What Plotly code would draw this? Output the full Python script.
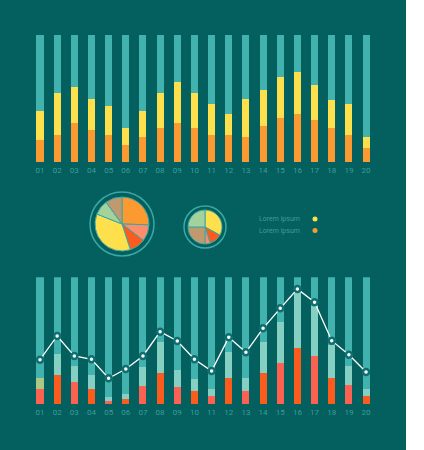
import plotly.graph_objects as go

# ---- data ----
labels = ["01", "02", "03", "04", "05", "06", "07", "08", "09", "10",
          "11", "12", "13", "14", "15", "16", "17", "18", "19", "20"]

# top chart (percent of full bar)
top_orange = [17, 21, 31, 25, 21, 13, 20, 27, 31, 27, 21, 21, 20, 28, 35, 38, 33, 27, 21, 11]
top_yellow = [23, 33, 28, 25, 23, 14, 20, 27, 32, 27, 25, 17, 30, 29, 32, 33, 28, 22, 25, 9]

# bottom chart
bottom_red = [11.6, 23, 17.4, 11.6, 2.4, 3.7, 14.2, 24, 13.4, 9.7,
              5.8, 20.3, 10, 24, 31.8, 44, 37.4, 20, 14.7, 5.8]
bottom_mint = [8.4, 16.5, 12.1, 10.8, 2.6, 3.7, 14.8, 24.4, 13.4, 10,
               5.8, 20.7, 10.3, 24.4, 32.4, 47, 39.4, 26.6, 15.3, 5.8]
bottom_line = [35, 53.7, 37.9, 35.3, 20.3, 27.6, 37.9, 57.1, 49.7, 35.3,
               26, 52.6, 40.8, 59.7, 75.5, 90.8, 80.3, 50, 38.9, 25.3]

# pies
big_pie_labels = ["A", "B", "C", "D", "E", "F"]
big_pie_values = [25.5, 10, 9.5, 36, 9, 10]
small_pie_labels = ["A", "B", "C", "D", "E"]
small_pie_values = [33, 12, 5, 25, 25]
legend_items = ["Lorem ipsum", "Lorem ipsum"]

# ---- colours ----
BG = "#03605f"
TEAL = "#41b2ad"
ORANGE = "#fa9a30"
YELLOW = "#fde04c"
MINT = "#86d0c3"
SALMON = "#fd6152"
RED = "#fb5b1d"
TICK = "#3c9d9a"

W, H = 424, 450


def px_x(v):
    return v / W


def px_y(v):
    return 1 - v / H


top_teal = [100 - o - y for o, y in zip(top_orange, top_yellow)]
bottom_teal = [100 - r - m for r, m in zip(bottom_red, bottom_mint)]
red_colors = [SALMON if i % 2 == 0 else RED for i in range(len(labels))]
mint_colors = ["#a8cb83"] + [MINT] * (len(labels) - 1)

fig = go.Figure()

bw = 0.41
fig.add_trace(go.Bar(x=labels, y=top_orange, marker_color=ORANGE, width=bw, xaxis="x", yaxis="y"))
fig.add_trace(go.Bar(x=labels, y=top_yellow, marker_color=YELLOW, width=bw, xaxis="x", yaxis="y"))
fig.add_trace(go.Bar(x=labels, y=top_teal, marker_color=TEAL, width=bw, xaxis="x", yaxis="y"))

fig.add_trace(go.Bar(x=labels, y=bottom_red, marker_color=red_colors, width=bw, xaxis="x2", yaxis="y2"))
fig.add_trace(go.Bar(x=labels, y=bottom_mint, marker_color=mint_colors, width=bw, xaxis="x2", yaxis="y2"))
fig.add_trace(go.Bar(x=labels, y=bottom_teal, marker_color=TEAL, width=bw, xaxis="x2", yaxis="y2"))
fig.add_trace(go.Scatter(x=labels, y=bottom_line, mode="lines+markers", xaxis="x2", yaxis="y2",
                         line=dict(color="white", width=1.3),
                         marker=dict(size=6, color="white", line=dict(color="#0f6f70", width=2.5))))

fig.update_traces(marker_line_width=0, selector=dict(type="bar"))

# pies
bcx, bcy, br = 122, 224, 27
scx, scy, sr = 205, 227, 17
fig.add_trace(go.Pie(labels=big_pie_labels, values=big_pie_values, sort=False, direction="clockwise",
                     textinfo="none",
                     marker=dict(colors=[ORANGE, "#fe8d6b", RED, YELLOW, "#a3d29c", "#c09a6e"],
                                 line=dict(color="#3aa8a6", width=1)),
                     domain=dict(x=[px_x(bcx - br), px_x(bcx + br)], y=[px_y(bcy + br), px_y(bcy - br)])))
fig.add_trace(go.Pie(labels=small_pie_labels, values=small_pie_values, sort=False, direction="clockwise",
                     textinfo="none",
                     marker=dict(colors=[YELLOW, RED, "#fe8d6b", "#c09a6e", "#a3d29c"],
                                 line=dict(color="#3aa8a6", width=1)),
                     domain=dict(x=[px_x(scx - sr), px_x(scx + sr)], y=[px_y(scy + sr), px_y(scy - sr)])))

shapes = [dict(type="rect", xref="paper", yref="paper", x0=0, x1=px_x(406), y0=0, y1=1,
               fillcolor=BG, line_width=0, layer="below")]
for cx, cy, r in [(bcx, bcy, 32), (scx, scy, 21)]:
    shapes.append(dict(type="circle", xref="paper", yref="paper",
                       x0=px_x(cx - r), x1=px_x(cx + r), y0=px_y(cy + r), y1=px_y(cy - r),
                       line=dict(color="#3aa8a6", width=1.5)))

annotations = []
for i, (txt, col) in enumerate(zip(legend_items, [YELLOW, ORANGE])):
    ly = 219 + i * 11.5
    annotations.append(dict(text=txt, xref="paper", yref="paper", x=px_x(302), y=px_y(ly),
                            xanchor="right", yanchor="middle", showarrow=False,
                            font=dict(size=7, color=TICK, family="Roboto")))
    shapes.append(dict(type="circle", xref="paper", yref="paper",
                       x0=px_x(312.5), x1=px_x(317.5), y0=px_y(ly + 2.5), y1=px_y(ly - 2.5),
                       fillcolor=col, line_width=0))

spacing = 17.16
xr = [-40 / spacing, (W - 40) / spacing]
axis_x = dict(range=xr, showgrid=False, zeroline=False, showline=False, ticks="",
              tickfont=dict(size=8, color=TICK, family="Roboto"), ticklabelstandoff=2,
              fixedrange=True)
axis_y = dict(range=[0, 100], visible=False, fixedrange=True)

fig.update_layout(
    width=W, height=H, margin=dict(l=0, r=0, t=0, b=0),
    paper_bgcolor="white", plot_bgcolor="rgba(0,0,0,0)",
    barmode="stack", bargap=0, showlegend=False,
    xaxis=dict(axis_x, domain=[0, 1], anchor="y"),
    yaxis=dict(axis_y, domain=[px_y(162), px_y(35)], anchor="x"),
    xaxis2=dict(axis_x, domain=[0, 1], anchor="y2"),
    yaxis2=dict(axis_y, domain=[px_y(404), px_y(277.3)], anchor="x2"),
    shapes=shapes, annotations=annotations,
)

# drop the browser's default body margin so the figure sits at the page origin
fig.write_html("out.html", config={"displayModeBar": False},
               post_script="document.body.style.margin='0';")
